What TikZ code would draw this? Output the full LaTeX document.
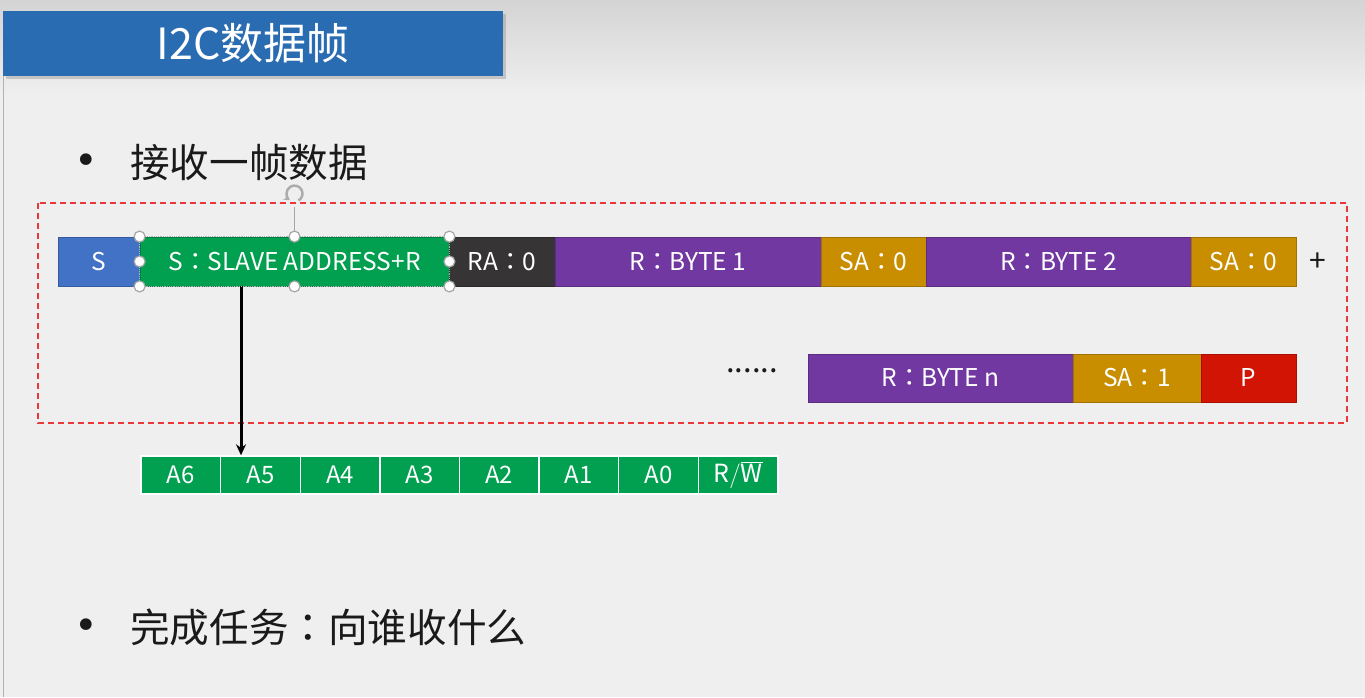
\documentclass[tikz,border=0pt]{standalone}
\usepackage{fontspec}
\setmainfont{Noto Sans CJK SC}
\newfontfamily\tcfont{Noto Sans CJK TC}
\newfontfamily\symfont{DejaVu Sans}
\newcommand{\cln}{{\tcfont ：}}
\usetikzlibrary{shadows,arrows.meta}
\definecolor{bgc}{HTML}{EFEFEF}
\definecolor{topc}{HTML}{D4D4D4}
\definecolor{titleblue}{HTML}{2A6CB1}
\definecolor{sblue}{HTML}{4272C6}
\definecolor{fgreen}{HTML}{00A050}
\definecolor{fdark}{HTML}{363434}
\definecolor{fpurple}{HTML}{7238A2}
\definecolor{fgold}{HTML}{C98E00}
\definecolor{fred}{HTML}{D21404}
\definecolor{dashred}{HTML}{E8383A}
\definecolor{txt}{HTML}{1A1A1A}
\begin{document}
\begin{tikzpicture}[x=1pt,y=-1pt,
  field/.style={draw=#1!80!black, line width=0.8pt, fill=#1, text=white, inner sep=0pt,
    font=\fontsize{24.5}{28}\selectfont, minimum height=49pt},
  bit/.style={draw=white, line width=1.4pt, fill=fgreen, text=white, inner sep=0pt,
    font=\fontsize{24}{28}\selectfont, minimum height=38pt, minimum width=79.6pt},
  handle/.style={circle, draw=gray!70, line width=1.2pt, fill=white, inner sep=0pt, minimum size=11pt},
  bullettext/.style={anchor=west, text=txt, inner sep=0pt, font=\fontsize{39.6}{46}\selectfont},
  bulletdot/.style={text=txt, inner sep=0pt, font=\symfont\fontsize{40}{44}\selectfont}]
\useasboundingbox (0,0) rectangle (1365,697);
% background
\fill[bgc] (0,0) rectangle (1365,697);
\shade[top color=topc, bottom color=bgc] (0,0) rectangle (1365,95);
\draw[gray!60, line width=1pt] (3,76) -- (3,697);
% title
\node[fill=titleblue, minimum width=500pt, minimum height=65pt, inner sep=0pt,
  drop shadow={shadow xshift=3pt, shadow yshift=-3pt, opacity=0.35},
  text=white, font=\fontsize{43}{48}\selectfont] (title) at (253,43.5) {I2C数据帧};
% bullet 1
\node[bulletdot] (d1) at (86,164) {•};
\node[bullettext] (b1) at (130,162) {接收一帧数据};
% dashed frame
\draw[dashred, dashed, dash pattern=on 6pt off 4pt, line width=1.2pt] (38,203) rectangle (1347,423);
% row 1
\node[field=sblue, minimum width=82pt] (s) at (99,261.5) {S};
\node[field=fgreen, minimum width=309pt] (addr) at (294.5,261.5) {S\cln SLAVE ADDRESS+R};
\node[field=fdark, minimum width=106pt] (ra) at (502,261.5) {RA\cln 0};
\node[field=fpurple, minimum width=266pt] (byte1) at (688,261.5) {R\cln BYTE 1};
\node[field=fgold, minimum width=105pt] (sa1) at (873.5,261.5) {SA\cln 0};
\node[field=fpurple, minimum width=265pt] (byte2) at (1058.5,261.5) {R\cln BYTE 2};
\node[field=fgold, minimum width=105pt] (sa2) at (1243.5,261.5) {SA\cln 0};
\node[text=txt, inner sep=0pt, font=\fontsize{30}{34}\selectfont] (plus) at (1318,262) {+};
% row 2
\node[text=txt, inner sep=0pt, font=\fontsize{31}{34}\selectfont] (dots) at (752,371) {......};
\node[field=fpurple, minimum width=265pt, minimum height=48pt] (byten) at (940.5,378) {R\cln BYTE n};
\node[field=fgold, minimum width=128pt, minimum height=48pt] (sa3) at (1137,378) {SA\cln 1};
\node[field=fred, minimum width=95pt, minimum height=48pt] (p) at (1248.5,378) {P};
% bits
\node[bit] (a6) at (180.8,475) {A6};
\node[bit] (a5) at (260.4,475) {A5};
\node[bit] (a4) at (340.0,475) {A4};
\node[bit] (a3) at (419.6,475) {A3};
\node[bit] (a2) at (499.2,475) {A2};
\node[bit] (a1) at (578.8,475) {A1};
\node[bit] (a0) at (658.4,475) {A0};
\node[bit, font=\fontsize{25}{28}\selectfont] (rw) at (738.0,475) {$\mathrm{R}/\overline{\mathrm{W}}$};
% arrow
\coordinate (arrtop) at (241,286);
\draw[-{Stealth[length=11pt,width=10pt]}, line width=3pt, black] (arrtop) -- (arrtop |- a5.north);
% selection handles
\draw[gray!60, densely dotted, line width=0.8pt] (addr.north west) rectangle (addr.south east);
\draw[gray!70, line width=1.2pt] (addr.north) -- ++(0,-30) coordinate (rot);
\draw[gray!65, line width=2.5pt, -{Stealth[length=6pt,width=7pt]}] ([shift={(0,-13)}]rot) ++(60:8) arc[start angle=60, end angle=-235, radius=8];
\foreach \a in {north west, north, north east, west, east, south west, south, south east}
  \node[handle] at (addr.\a) {};
% bullet 2
\node[bulletdot] (d2) at (86,629) {•};
\node[bullettext] (b2) at (130,627) {完成任务\cln 向谁收什么};
\end{tikzpicture}
\end{document}
